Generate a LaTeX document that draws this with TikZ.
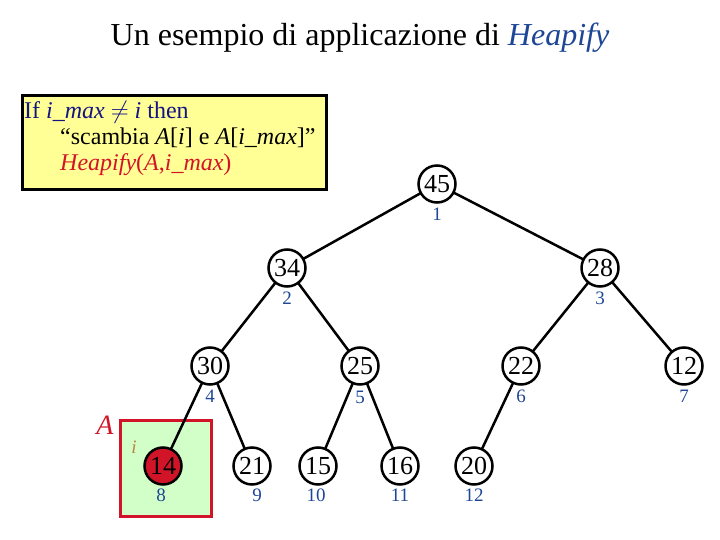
\documentclass[tikz,border=0pt]{standalone}
\usepackage{fontspec}
\setmainfont{Liberation Serif}
\definecolor{navy}{RGB}{20,20,130}
\definecolor{idxblue}{RGB}{30,70,150}
\definecolor{hred}{RGB}{210,20,40}
\definecolor{note}{RGB}{255,255,150}
\definecolor{mint}{RGB}{210,255,200}
\tikzset{
  key/.style={circle, draw, line width=2.5pt, fill=white, minimum size=37pt, inner sep=0pt, font=\fontsize{26}{26}\selectfont},
  idx/.style={text=idxblue, font=\fontsize{19}{19}\selectfont},
  edge/.style={line width=2.5pt}
}
\begin{document}
\begin{tikzpicture}[x=1pt,y=-1pt]
\useasboundingbox (0,0) rectangle (720,540);
% title
\node[font=\fontsize{32}{32}\selectfont] (title) at (360,38) {Un esempio di applicazione di \textcolor{idxblue}{\textit{Heapify}}};
% pseudo code box
\draw[line width=3pt, fill=note] (22,96) rectangle (326,190);
\node[anchor=north west, align=left, inner sep=2pt, font=\fontsize{24}{26}\selectfont] (code) at (22,99)
  {\textcolor{navy}{If \textit{i\_max} $\neq$ \textit{i} then}\\
   \hspace{1.5em}``scambia \textit{A}[\textit{i}] e \textit{A}[\textit{i\_max}]''\\
   \hspace{1.5em}\textcolor{hred}{\textit{Heapify}(\textit{A},\textit{i\_max})}};
% array region
\draw[line width=3pt, draw=hred, fill=mint] (120,420) rectangle (211,516);
\node[text=hred, font=\fontsize{28}{28}\selectfont\itshape] (arr) at (105,425) {A};
\node[text=brown, font=\fontsize{19}{19}\selectfont\itshape] (ivar) at (134,447) {i};
% edges (drawn first, under the nodes)
\coordinate (n1) at (437,184);
\coordinate (n2) at (287,268);
\coordinate (n3) at (600,268);
\coordinate (n4) at (210,366);
\coordinate (n5) at (360,366);
\coordinate (n6) at (521,366);
\coordinate (n7) at (684,366);
\coordinate (n8) at (163,466);
\coordinate (n9) at (252,466);
\coordinate (n10) at (318,466);
\coordinate (n11) at (400,466);
\coordinate (n12) at (474,466);
\foreach \p/\c in {n1/n2,n1/n3,n2/n4,n2/n5,n3/n6,n3/n7,n4/n8,n4/n9,n5/n10,n5/n11,n6/n12}
  \draw[edge] (\p) -- (\c);
% tree nodes
\node[key] (k1) at (n1) {45};
\node[key] (k2) at (n2) {34};
\node[key] (k3) at (n3) {28};
\node[key] (k4) at (n4) {30};
\node[key] (k5) at (n5) {25};
\node[key] (k6) at (n6) {22};
\node[key] (k7) at (n7) {12};
\node[key, fill=hred] (k8) at (n8) {14};
\node[key] (k9) at (n9) {21};
\node[key] (k10) at (n10) {15};
\node[key] (k11) at (n11) {16};
\node[key] (k12) at (n12) {20};
% indices
\node[idx] (l1) at (437,214) {1};
\node[idx] (l2) at (287,298) {2};
\node[idx] (l3) at (600,298) {3};
\node[idx] (l4) at (210,396) {4};
\node[idx] (l5) at (360,397) {5};
\node[idx] (l6) at (521,396) {6};
\node[idx] (l7) at (684,396) {7};
\node[idx] (l8) at (161,495) {8};
\node[idx] (l9) at (257,495) {9};
\node[idx] (l10) at (316,495) {10};
\node[idx] (l11) at (400,495) {11};
\node[idx] (l12) at (474,495) {12};
\end{tikzpicture}
\end{document}
